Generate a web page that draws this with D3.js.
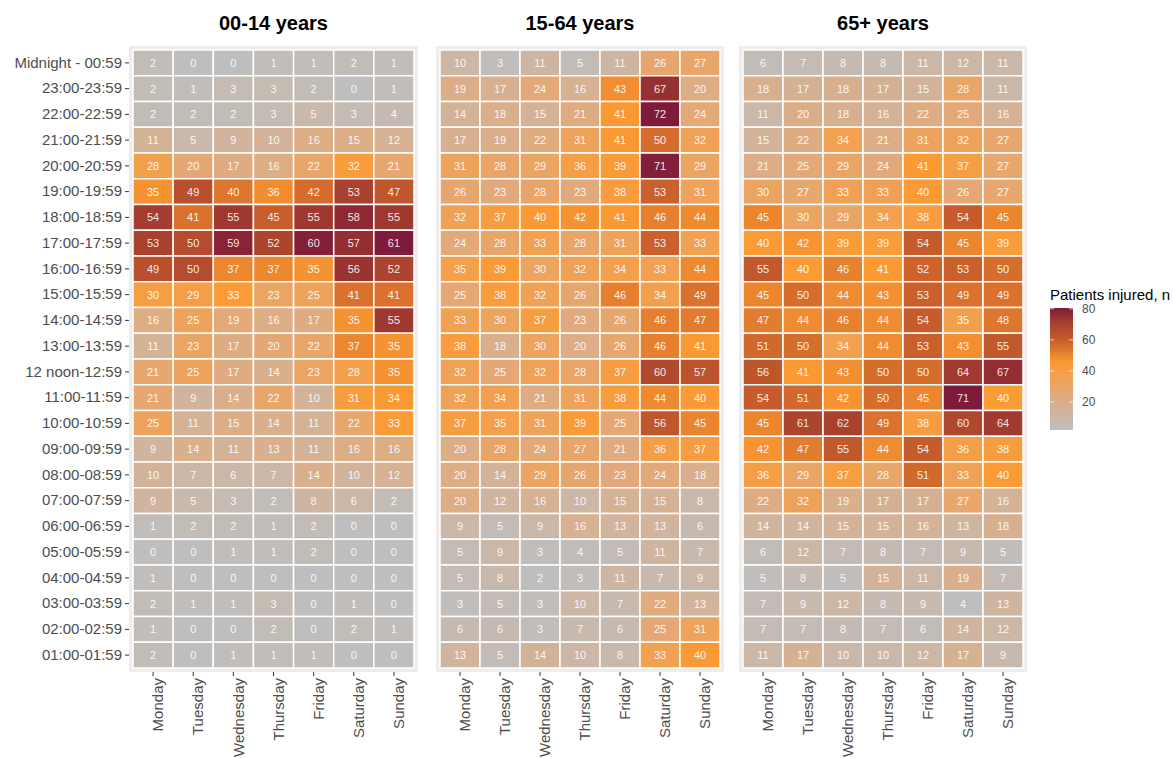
<!DOCTYPE html>
<html>
<head>
<meta charset="utf-8">
<script src="https://cdn.jsdelivr.net/npm/d3@7"></script>
<style>
  html, body { margin: 0; padding: 0; background: #ffffff; }
  svg { display: block; font-family: "Liberation Sans", Arial, Helvetica, sans-serif; }
</style>
</head>
<body>
<svg id="chart" width="1173" height="758"></svg>
<script>
const days = ["Monday", "Tuesday", "Wednesday", "Thursday", "Friday", "Saturday", "Sunday"];
const hours = ["Midnight - 00:59", "23:00-23:59", "22:00-22:59", "21:00-21:59", "20:00-20:59",
  "19:00-19:59", "18:00-18:59", "17:00-17:59", "16:00-16:59", "15:00-15:59", "14:00-14:59",
  "13:00-13:59", "12 noon-12:59", "11:00-11:59", "10:00-10:59", "09:00-09:59", "08:00-08:59",
  "07:00-07:59", "06:00-06:59", "05:00-05:59", "04:00-04:59", "03:00-03:59", "02:00-02:59",
  "01:00-01:59"];
const panelTitles = ["00-14 years", "15-64 years", "65+ years"];

const values0014 = [
  [2, 0, 0, 1, 1, 2, 1],
  [2, 1, 3, 3, 2, 0, 1],
  [2, 2, 2, 3, 5, 3, 4],
  [11, 5, 9, 10, 16, 15, 12],
  [28, 20, 17, 16, 22, 32, 21],
  [35, 49, 40, 36, 42, 53, 47],
  [54, 41, 55, 45, 55, 58, 55],
  [53, 50, 59, 52, 60, 57, 61],
  [49, 50, 37, 37, 35, 56, 52],
  [30, 29, 33, 23, 25, 41, 41],
  [16, 25, 19, 16, 17, 35, 55],
  [11, 23, 17, 20, 22, 37, 35],
  [21, 25, 17, 14, 23, 28, 35],
  [21, 9, 14, 22, 10, 31, 34],
  [25, 11, 15, 14, 11, 22, 33],
  [9, 14, 11, 13, 11, 16, 16],
  [10, 7, 6, 7, 14, 10, 12],
  [9, 5, 3, 2, 8, 6, 2],
  [1, 2, 2, 1, 2, 0, 0],
  [0, 0, 1, 1, 2, 0, 0],
  [1, 0, 0, 0, 0, 0, 0],
  [2, 1, 1, 3, 0, 1, 0],
  [1, 0, 0, 2, 0, 2, 1],
  [2, 0, 1, 1, 1, 0, 0]
];
const values1564 = [
  [10, 3, 11, 5, 11, 26, 27],
  [19, 17, 24, 16, 43, 67, 20],
  [14, 18, 15, 21, 41, 72, 24],
  [17, 19, 22, 31, 41, 50, 32],
  [31, 28, 29, 36, 39, 71, 29],
  [26, 23, 28, 23, 38, 53, 31],
  [32, 37, 40, 42, 41, 46, 44],
  [24, 28, 33, 28, 31, 53, 33],
  [35, 39, 30, 32, 34, 33, 44],
  [25, 38, 32, 26, 46, 34, 49],
  [33, 30, 37, 23, 26, 46, 47],
  [38, 18, 30, 20, 26, 46, 41],
  [32, 25, 32, 28, 37, 60, 57],
  [32, 34, 21, 31, 38, 44, 40],
  [37, 35, 31, 39, 25, 56, 45],
  [20, 28, 24, 27, 21, 36, 37],
  [20, 14, 29, 26, 23, 24, 18],
  [20, 12, 16, 10, 15, 15, 8],
  [9, 5, 9, 16, 13, 13, 6],
  [5, 9, 3, 4, 5, 11, 7],
  [5, 8, 2, 3, 11, 7, 9],
  [3, 5, 3, 10, 7, 22, 13],
  [6, 6, 3, 7, 6, 25, 31],
  [13, 5, 14, 10, 8, 33, 40]
];
const values65 = [
  [6, 7, 8, 8, 11, 12, 11],
  [18, 17, 18, 17, 15, 28, 11],
  [11, 20, 18, 16, 22, 25, 16],
  [15, 22, 34, 21, 31, 32, 27],
  [21, 25, 29, 24, 41, 37, 27],
  [30, 27, 33, 33, 40, 26, 27],
  [45, 30, 29, 34, 38, 54, 45],
  [40, 42, 39, 39, 54, 45, 39],
  [55, 40, 46, 41, 52, 53, 50],
  [45, 50, 44, 43, 53, 49, 49],
  [47, 44, 46, 44, 54, 35, 48],
  [51, 50, 34, 44, 53, 43, 55],
  [56, 41, 43, 50, 50, 64, 67],
  [54, 51, 42, 50, 45, 71, 40],
  [45, 61, 62, 49, 38, 60, 64],
  [42, 47, 55, 44, 54, 36, 38],
  [36, 29, 37, 28, 51, 33, 40],
  [22, 32, 19, 17, 17, 27, 16],
  [14, 14, 15, 15, 16, 13, 18],
  [6, 12, 7, 8, 7, 9, 5],
  [5, 8, 5, 15, 11, 19, 7],
  [7, 9, 12, 8, 9, 4, 13],
  [7, 7, 8, 7, 6, 14, 12],
  [11, 17, 10, 10, 12, 17, 9]
];
const legendTicks = [20, 40, 60, 80];
const legendTitle = "Patients injured, n";

const panelValues = [values0014, values1564, values65];

// ---------- layout / style ----------
const svg = d3.select("#chart");
const panelRanges = [[133, 414], [440, 720], [743, 1023]];
const yTop = 50, yBot = 668, pad = 4;
const gradStops = [0, 0.3, 0.55, 0.72, 0.9, 1];
const gradColors = ["#bebebe", "#e2aa7c", "#fc9a32", "#cc622b", "#a03a2f", "#7e1a3a"];

const y = d3.scaleBand().domain(hours).range([yTop, yBot]);

panelValues.forEach((vals, pi) => {
  const x = d3.scaleBand().domain(days).range(panelRanges[pi]);
  const flat = vals.flat();
  const vmin = d3.min(flat), vmax = d3.max(flat);
  const tScale = d3.scaleLinear().domain([vmin, vmax]).range([0, 1]);
  const color = d3.scaleLinear().domain(gradStops).range(gradColors).interpolate(d3.interpolateRgb).clamp(true);

  const g = svg.append("g");
  g.append("rect")
    .attr("x", panelRanges[pi][0] - pad).attr("y", yTop - pad)
    .attr("width", panelRanges[pi][1] - panelRanges[pi][0] + 2 * pad)
    .attr("height", yBot - yTop + 2 * pad)
    .attr("fill", "#ededed");

  const cells = [];
  vals.forEach((row, ri) => row.forEach((v, ci) => cells.push({ h: hours[ri], d: days[ci], v })));

  g.selectAll("rect.cell").data(cells).join("rect")
    .attr("class", "cell")
    .attr("x", d => x(d.d)).attr("y", d => y(d.h))
    .attr("width", x.bandwidth()).attr("height", y.bandwidth())
    .attr("fill", d => color(tScale(d.v)))
    .attr("stroke", "#ffffff").attr("stroke-width", 1.5);

  g.selectAll("text.val").data(cells).join("text")
    .attr("class", "val")
    .attr("x", d => x(d.d) + x.bandwidth() / 2)
    .attr("y", d => y(d.h) + y.bandwidth() / 2)
    .attr("dy", "0.36em")
    .attr("text-anchor", "middle")
    .attr("font-size", 11)
    .attr("fill", "#ffffff").attr("fill-opacity", 0.9)
    .text(d => d.v);

  // title
  svg.append("text")
    .attr("x", (panelRanges[pi][0] + panelRanges[pi][1]) / 2)
    .attr("y", 30)
    .attr("text-anchor", "middle")
    .attr("font-size", 20).attr("font-weight", "bold").attr("fill", "#000")
    .text(panelTitles[pi]);

  // x axis
  const xAxis = svg.append("g").attr("transform", `translate(0,${yBot + pad})`)
    .call(d3.axisBottom(x).tickSize(4).tickPadding(4));
  xAxis.select(".domain").remove();
  xAxis.selectAll(".tick line").attr("stroke", "#333333");
  xAxis.selectAll(".tick text")
    .attr("font-size", 15).attr("fill", "#4d4d4d")
    .attr("font-family", "Liberation Sans, Arial, sans-serif")
    .attr("transform", "rotate(-90)")
    .attr("text-anchor", "end")
    .attr("x", -6).attr("y", 5).attr("dy", "0.35em");

  if (pi === 0) {
    const yAxis = svg.append("g").attr("transform", `translate(${panelRanges[0][0] - pad},0)`)
      .call(d3.axisLeft(y).tickSize(4).tickPadding(3));
    yAxis.select(".domain").remove();
    yAxis.selectAll(".tick line").attr("stroke", "#333333");
    yAxis.selectAll(".tick text")
      .attr("font-size", 15).attr("fill", "#4d4d4d")
      .attr("font-family", "Liberation Sans, Arial, sans-serif");
  }
});

// ---------- legend ----------
const lx = 1050, lw = 23, ltop = 308, lbot = 430;
const lScale = d3.scaleLinear().domain([2, 80.5]).range([lbot, ltop]);
const lColor = d3.scaleLinear().domain(gradStops).range(gradColors).interpolate(d3.interpolateRgb);

const defs = svg.append("defs");
const grad = defs.append("linearGradient").attr("id", "lg")
  .attr("x1", 0).attr("y1", 1).attr("x2", 0).attr("y2", 0);
d3.range(0, 1.0001, 0.05).forEach(t => {
  grad.append("stop").attr("offset", t).attr("stop-color", lColor(t));
});
svg.append("rect").attr("x", lx).attr("y", ltop).attr("width", lw).attr("height", lbot - ltop)
  .attr("fill", "url(#lg)");

svg.append("text").attr("x", lx).attr("y", 300)
  .attr("font-size", 15).attr("fill", "#000").text(legendTitle);

const lg = svg.append("g");
lg.selectAll("line.l").data(legendTicks).join("line").attr("class", "l")
  .attr("x1", lx).attr("x2", lx + 4).attr("y1", d => lScale(d)).attr("y2", d => lScale(d))
  .attr("stroke", "#ffffff").attr("stroke-opacity", 0.7);
lg.selectAll("line.r").data(legendTicks).join("line").attr("class", "r")
  .attr("x1", lx + lw - 4).attr("x2", lx + lw).attr("y1", d => lScale(d)).attr("y2", d => lScale(d))
  .attr("stroke", "#ffffff").attr("stroke-opacity", 0.7);
lg.selectAll("text").data(legendTicks).join("text")
  .attr("x", lx + lw + 9).attr("y", d => lScale(d)).attr("dy", "0.35em")
  .attr("font-size", 12).attr("fill", "#4d4d4d").text(d => d);
</script>
</body>
</html>
